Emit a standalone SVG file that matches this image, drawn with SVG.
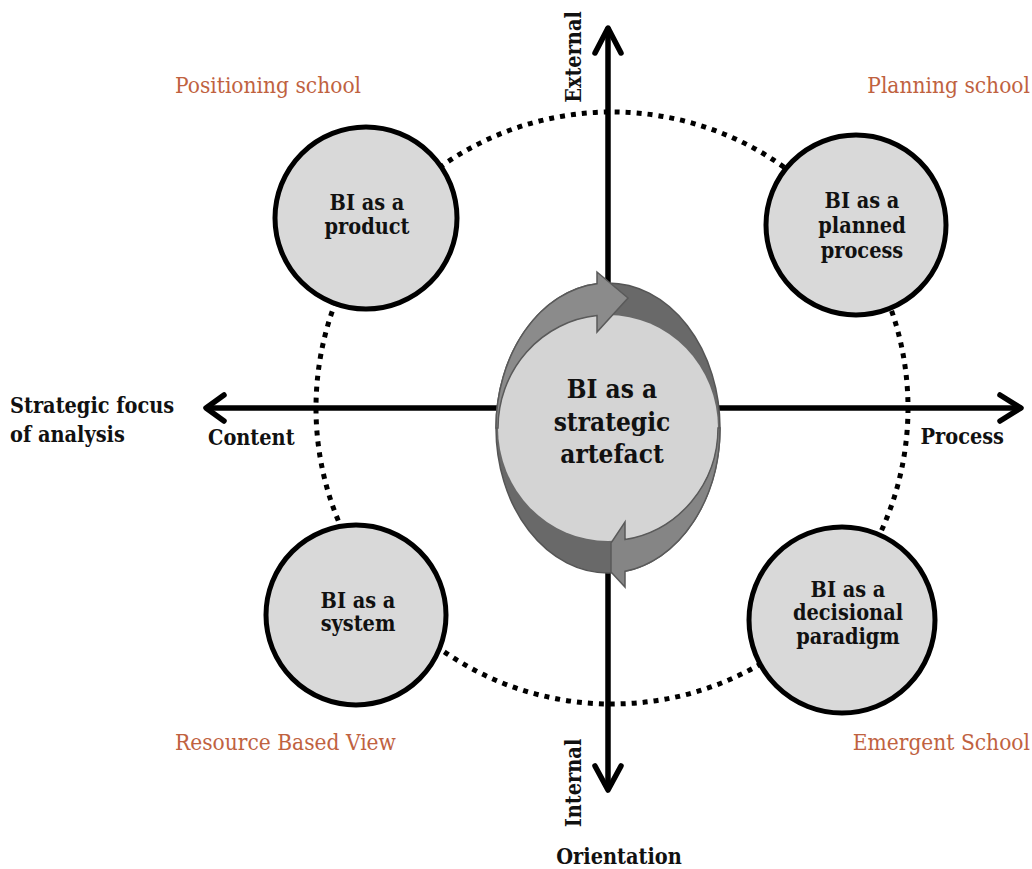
<svg xmlns="http://www.w3.org/2000/svg" width="1032" height="869" viewBox="0 0 1032 869">
<style>
.b{font-family:'DejaVu Serif Condensed','DejaVu Serif',serif;font-stretch:condensed;font-weight:bold;fill:#111}
.o{font-family:'DejaVu Serif Condensed','DejaVu Serif',serif;font-stretch:condensed;fill:#c0623f;font-size:22.5px}
.node{fill:#d9d9d9;stroke:#000;stroke-width:5}
.axis{fill:none;stroke:#000;stroke-width:5.5;stroke-linecap:round;stroke-linejoin:round}
.nt{font-size:21.5px;text-anchor:middle}
.lb{font-size:21.5px}
</style>
<rect width="1032" height="869" fill="#fff"/>
<g id="ring">
<circle cx="612" cy="408" r="296" fill="none" stroke="#000" stroke-width="5" stroke-dasharray="5 6"/>
</g>
<g id="connectors">
<line class="axis" x1="208" y1="408" x2="1020" y2="408"/>
<polyline class="axis" points="224,395 206,408 224,421"/>
<polyline class="axis" points="1000,395 1021,408 1000,421"/>
<line class="axis" x1="608" y1="29" x2="608" y2="788"/>
<polyline class="axis" points="595,53 608,28 621,53"/>
<polyline class="axis" points="595,766 608,790 621,766"/>
</g>
<g id="center">
<ellipse cx="608" cy="428" rx="112" ry="145" fill="#696969" stroke="#555" stroke-width="1.5"/>
<ellipse cx="608" cy="428" rx="110" ry="113" fill="#d4d4d4"/>
<path d="M496,428 A112,145 0 0 1 597,283.7 L597,272 L628,298 L597,332 L597,315.6 A110,113 0 0 0 498,428 Z" fill="#8b8b8b" stroke="#5a5a5a" stroke-width="1.5"/>
<path d="M720,428 A112,145 0 0 1 625,571.3 L625,587 L611,572 L611,543 L625,522 L625,539.6 A110,113 0 0 0 718,428 Z" fill="#858585" stroke="#5a5a5a" stroke-width="1.5"/>
<text class="b" font-size="26" text-anchor="middle"><tspan x="612" y="398">BI as a</tspan><tspan x="612" y="431">strategic</tspan><tspan x="612" y="463">artefact</tspan></text>
</g>
<g id="n-product">
<circle class="node" cx="366" cy="218" r="91"/>
<text class="b nt"><tspan x="367" y="210">BI as a</tspan><tspan x="367" y="234">product</tspan></text>
</g>
<g id="n-planned">
<circle class="node" cx="856" cy="225" r="90"/>
<text class="b nt"><tspan x="862" y="208">BI as a</tspan><tspan x="862" y="233">planned</tspan><tspan x="862" y="258">process</tspan></text>
</g>
<g id="n-system">
<circle class="node" cx="356" cy="615" r="90"/>
<text class="b nt"><tspan x="358" y="608">BI as a</tspan><tspan x="358" y="631">system</tspan></text>
</g>
<g id="n-decisional">
<circle class="node" cx="842" cy="620" r="93"/>
<text class="b nt"><tspan x="848" y="597">BI as a</tspan><tspan x="848" y="620">decisional</tspan><tspan x="848" y="644">paradigm</tspan></text>
</g>
<g id="labels">
<text class="o" x="175" y="93">Positioning school</text>
<text class="o" x="1030" y="93" text-anchor="end">Planning school</text>
<text class="o" x="175" y="750">Resource Based View</text>
<text class="o" x="1030" y="750" text-anchor="end">Emergent School</text>
<text class="b lb" transform="translate(581,57) rotate(-90)" text-anchor="middle">External</text>
<text class="b lb" transform="translate(581,783) rotate(-90)" text-anchor="middle">Internal</text>
<text class="b lb" x="619" y="864" text-anchor="middle">Orientation</text>
<text class="b lb"><tspan x="10" y="413">Strategic focus</tspan><tspan x="10" y="442">of analysis</tspan></text>
<text class="b lb" x="208" y="445">Content</text>
<text class="b lb" x="1004" y="444" text-anchor="end">Process</text>
</g>
</svg>
